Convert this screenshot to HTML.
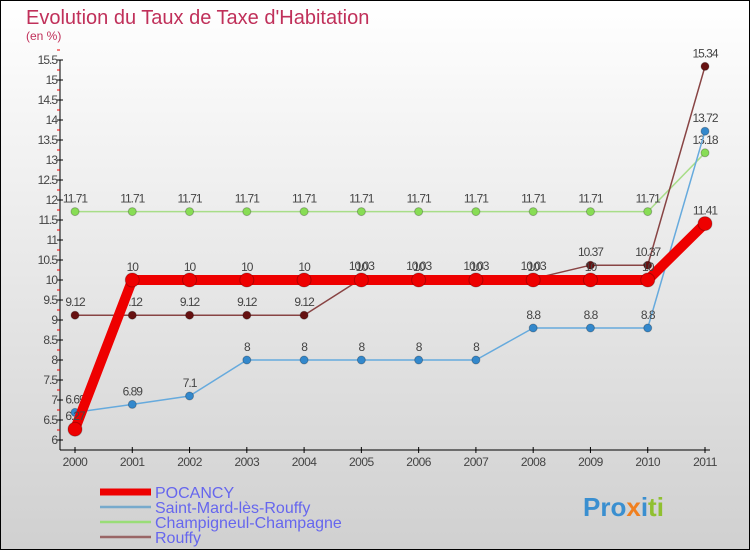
<!DOCTYPE html>
<html><head><meta charset="utf-8"><style>
html,body{margin:0;padding:0}
body{width:750px;height:550px;overflow:hidden;font-family:"Liberation Sans",sans-serif}
</style></head><body>
<svg id="chart" width="750" height="550" xmlns="http://www.w3.org/2000/svg">
<defs><linearGradient id="bg" x1="0" y1="0" x2="0" y2="1"><stop offset="0" stop-color="#ffffff"/><stop offset="1" stop-color="#d0d0d0"/></linearGradient></defs>
<rect x="0.5" y="0.5" width="749" height="549" fill="url(#bg)" stroke="#000"/>
<text x="26" y="24" font-size="20" fill="#c0305a">Evolution du Taux de Taxe d'Habitation</text>
<text x="26" y="40" font-size="12" fill="#c0305a">(en %)</text>
<g id="axes"></g><g id="series"></g><g id="legend"></g>
<text x="583" y="516" font-size="26" font-weight="bold" fill="#3a8fd0">Pro<tspan fill="#f08020">x</tspan><tspan fill="#3a8fd0">i</tspan><tspan fill="#90c030">ti</tspan></text>
</svg>
<script>
const years=[2000,2001,2002,2003,2004,2005,2006,2007,2008,2009,2010,2011];
const pocancy=[6.27,10,10,10,10,10,10,10,10,10,10,11.41];
const saintMard=[6.69,6.89,7.1,8,8,8,8,8,8.8,8.8,8.8,13.72];
const champigneul=[11.71,11.71,11.71,11.71,11.71,11.71,11.71,11.71,11.71,11.71,11.71,13.18];
const rouffy=[9.12,9.12,9.12,9.12,9.12,10.03,10.03,10.03,10.03,10.37,10.37,15.34];
const yTicks=[6,6.5,7,7.5,8,8.5,9,9.5,10,10.5,11,11.5,12,12.5,13,13.5,14,14.5,15,15.5];
const NS="http://www.w3.org/2000/svg";
const xs=i=>75+i*(630/(years.length-1));
const ys=v=>440-(v-6)*40;
function mk(p,t,a){const e=document.createElementNS(NS,t);for(const k in a)e.setAttribute(k,a[k]);p.appendChild(e);return e;}
const ax=document.getElementById('axes');
let l=mk(ax,'line',{x1:60,y1:60,x2:60,y2:450,stroke:'#000'});


l=mk(ax,'line',{x1:60,y1:450,x2:710,y2:450,stroke:'#000'});


yTicks.forEach(v=>{
  mk(ax,'line',{x1:57,y1:ys(v),x2:63,y2:ys(v),stroke:'#000'});
  mk(ax,'line',{x1:57,y1:ys(v)-10,x2:60,y2:ys(v)-10,stroke:'#e00'});
  const t=mk(ax,'text',{x:57,y:ys(v)+4,'font-size':12,'text-anchor':'end',fill:'#444','letter-spacing':'-1'});
  t.textContent=String(v);
  
  
});
years.forEach((y,i)=>{
  mk(ax,'line',{x1:xs(i),y1:447,x2:xs(i),y2:453,stroke:'#000'});
  const t=mk(ax,'text',{x:xs(i),y:466,'font-size':12,'text-anchor':'middle',fill:'#444','letter-spacing':'-0.5'});
  t.textContent=String(y);
  
  
});
const sg=document.getElementById('series');
const defs=[
 {name:'champigneul',data:champigneul,color:'#88dd55',lc:'#a8dd88',w:1.5,r:4},
 {name:'saint-mard',data:saintMard,color:'#3388cc',lc:'#66aadd',w:1.5,r:4},
 {name:'rouffy',data:rouffy,color:'#661111',lc:'#884444',w:1.5,r:4},
 {name:'pocancy',data:pocancy,color:'#ee0000',lc:'#ee0000',w:10,r:7}
];
defs.forEach(s=>{
  const g=mk(sg,'g',{});
  
  
  const pl=mk(g,'polyline',{points:s.data.map((v,i)=>xs(i)+','+ys(v)).join(' '),fill:'none',stroke:s.lc,'stroke-width':s.w,'stroke-linejoin':'round'});
  
  
  s.data.forEach((v,i)=>{
    const c=mk(g,'circle',{cx:xs(i),cy:ys(v),r:s.r,fill:s.color,stroke:'rgba(0,0,0,0.25)'});
    
    
    const t=mk(g,'text',{x:xs(i),y:ys(v)-9,'font-size':12,'text-anchor':'middle',fill:'#444','letter-spacing':'-1'});
    t.textContent=String(v);
    
    
  });
});
const lg=document.getElementById('legend');
const legItems=[['POCANCY','#ee0000',7],['Saint-Mard-lès-Rouffy','#77aacc',2.5],['Champigneul-Champagne','#99dd77',2.5],['Rouffy','#996666',2.5]];
legItems.forEach((it,k)=>{
  const y=492+k*15;
  const g=mk(lg,'g',{});
  
  
  mk(g,'line',{x1:100,y1:y,x2:151,y2:y,stroke:it[1],'stroke-width':it[2]});
  const t=mk(g,'text',{x:155,y:y+6,'font-size':16,fill:'#6666ee'});
  t.textContent=it[0];
});
</script>
</body></html>
